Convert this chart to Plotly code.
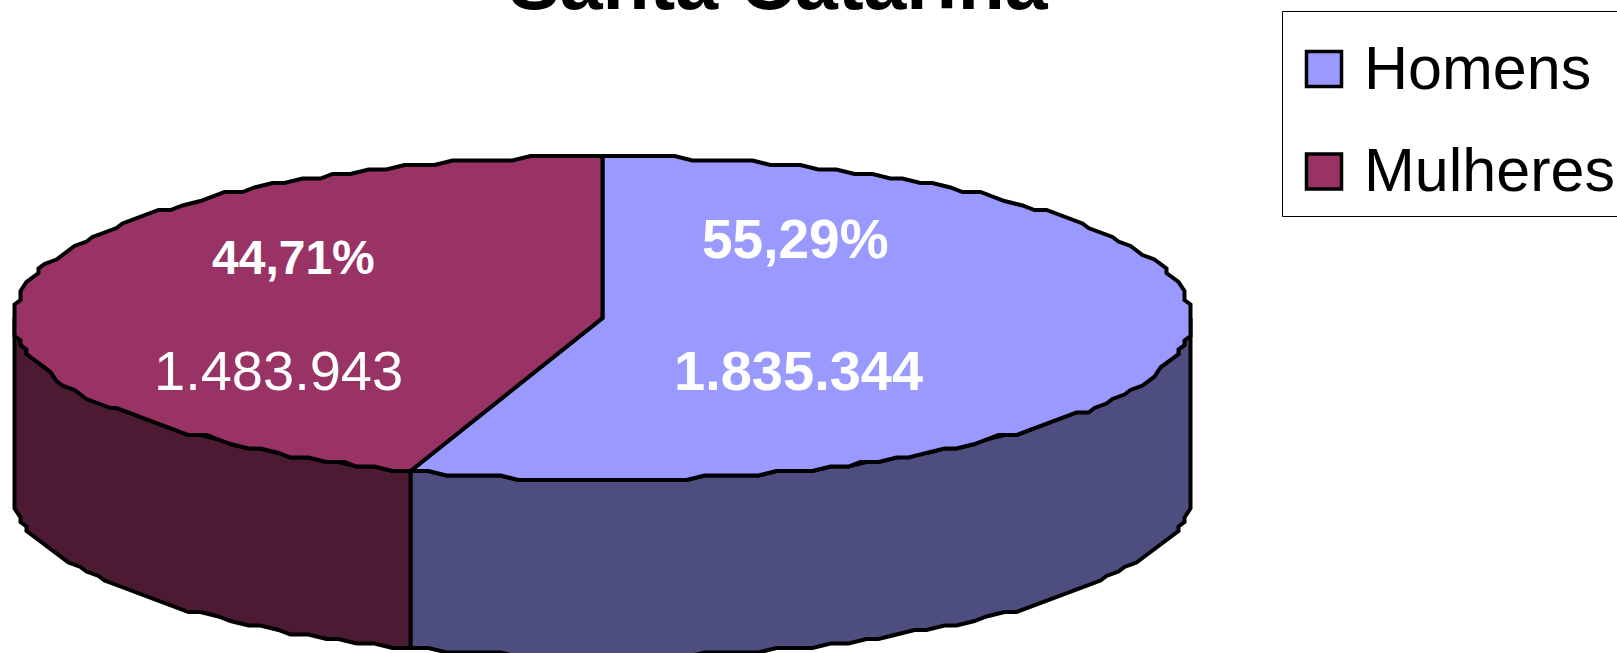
import numpy as np
import plotly.graph_objects as go

categories = ["Homens", "Mulheres"]
values = [1835344, 1483943]
top_colors = ["#9999FF", "#993366"]
side_colors = ["#4D4D80", "#4D1A33"]

W, H = 1617, 653
CX, CY, RX, RY, DEPTH = 602.5, 318.0, 589.0, 161.5, 177.0
FONT = "Liberation Sans, Arial, sans-serif"
LW = 4


def pt(deg, dy=0.0):
    t = np.radians(deg)
    x = RX * np.sin(t)
    y = RY * np.cos(t)
    # the reference outline is a coarse stair-stepped polygon
    return CX + np.round(x / 6) * 6, CY - np.round(y / 4.5) * 4.5 + dy


def arc(a0, a1, dy=0.0):
    n = max(2, int(abs(a1 - a0) / 1.8) + 1)
    ang = np.linspace(a0, a1, n)
    xs, ys = zip(*[pt(a, dy) for a in ang])
    return list(xs), list(ys)


share = [v / sum(values) for v in values]
cuts = [0.0, share[0] * 360.0, 360.0]

fig = go.Figure()
line = dict(color="black", width=LW)


def poly(x, y, color):
    fig.add_trace(go.Scatter(x=x + x[:1], y=y + y[:1], mode="lines", fill="toself",
                             fillcolor=color, line=line, showlegend=False, hoverinfo="skip"))


# visible side walls: front half of the disc (90 to 270 degrees)
walls = [(90.0, cuts[1], side_colors[0]), (cuts[1], 270.0, side_colors[1])]
for a0, a1, col in walls:
    xt, yt = arc(a0, a1)
    xb, yb = arc(a0, a1, DEPTH)
    poly(xt + xb[::-1], yt + yb[::-1], col)

# top faces
for i in range(2):
    xs, ys = arc(cuts[i], cuts[i + 1])
    poly(xs + [CX], ys + [CY], top_colors[i])


def fmt(v):
    return f"{v:,}".replace(",", ".")


pct_pos = [(795, 239, 55), (293, 257, 48)]
val_pos = [(798, 370, 56), (278, 370, 56)]
ann = []
for i in range(2):
    px, py, ps = pct_pos[i]
    ann.append(dict(x=px, y=py, text=f"<b>{share[i] * 100:.2f}%</b>".replace(".", ","),
                    showarrow=False, font=dict(family=FONT, size=ps, color="white")))
    vx, vy, vs = val_pos[i]
    t = fmt(values[i])
    ann.append(dict(x=vx, y=vy, text=f"<b>{t}</b>" if i == 0 else t,
                    showarrow=False, font=dict(family=FONT, size=vs, color="white")))

# legend: plotly caps legend swatches at 16 px, so it is drawn to the reference's size
legend_swatch_y = [69, 171.5]
legend_text_y = [68, 170]
fig.add_trace(go.Scatter(x=[1324, 1324], y=legend_swatch_y, mode="markers", showlegend=False,
                         hoverinfo="skip",
                         marker=dict(symbol="square", size=35, color=top_colors,
                                     line=dict(color="black", width=3.5))))
for name, y in zip(categories, legend_text_y):
    ann.append(dict(x=1362, y=y, text=name, xanchor="left", showarrow=False,
                    font=dict(family=FONT, size=61, color="black")))

fig.update_layout(
    width=W, height=H, autosize=False,
    margin=dict(l=0, r=0, t=0, b=0, autoexpand=False),
    paper_bgcolor="white", plot_bgcolor="white",
    xaxis=dict(range=[0, W], visible=False, fixedrange=True),
    yaxis=dict(range=[H, 0], visible=False, fixedrange=True),
    annotations=ann,
    shapes=[dict(type="rect", x0=1282.5, x1=W + 10, y0=11.5, y1=216.5, line=dict(color="black", width=1),
                 fillcolor="white", layer="below")],
    title=dict(text="<b>Santa Catarina</b>", x=778 / W, xanchor="center",
               y=1.0 - 9 / H, yanchor="bottom", font=dict(family=FONT, size=77, color="black"), pad=dict(b=0)),
    showlegend=False,
)
fig.write_html("out.html", config=dict(displayModeBar=False),
               post_script="document.body.style.margin='0';document.body.style.overflow='hidden';")
